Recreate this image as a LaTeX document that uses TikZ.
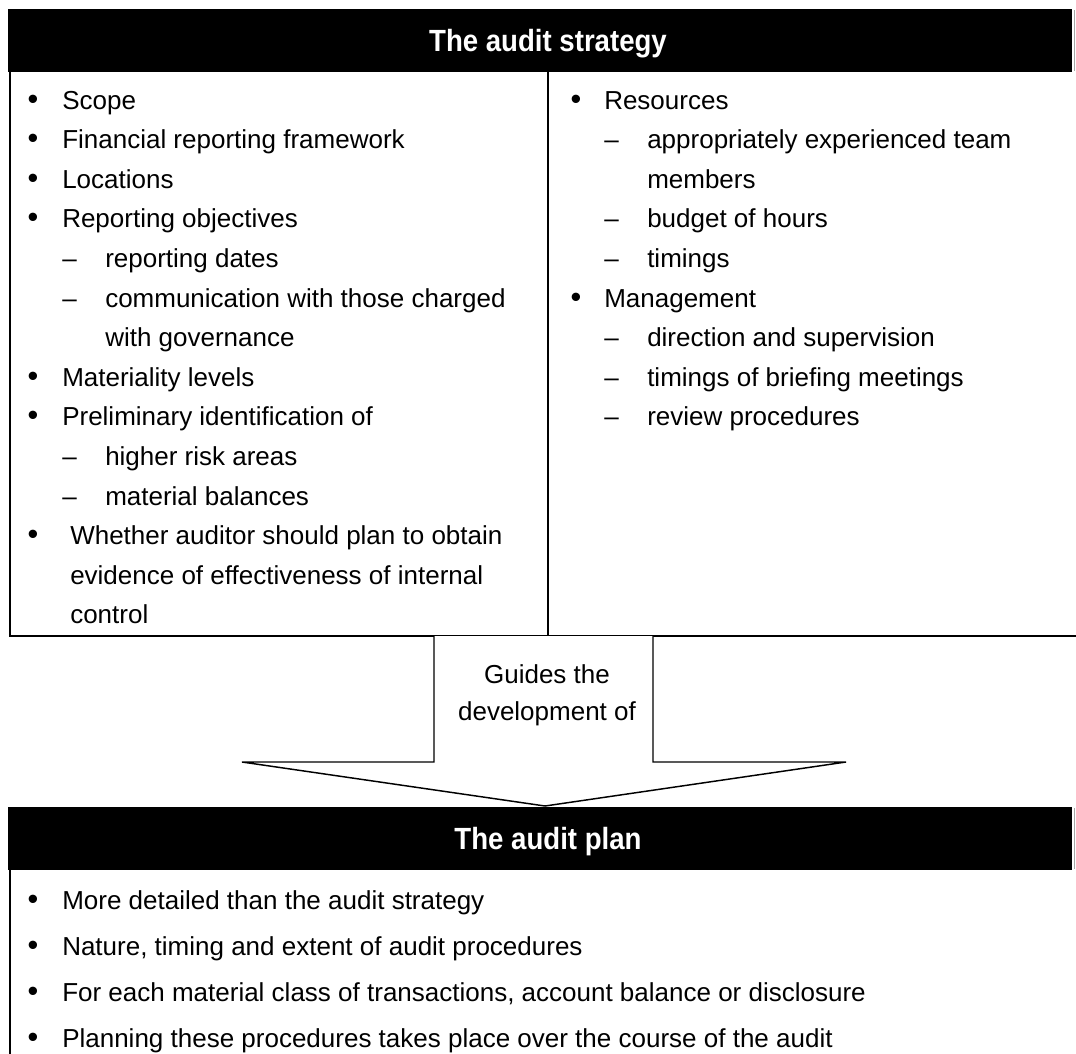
\documentclass[tikz,border=0pt]{standalone}
\usepackage{fontspec}
\setmainfont{Liberation Sans}
\newfontfamily\titlefont[FakeStretch=0.9]{Liberation Sans}
\begin{document}
\begin{tikzpicture}[x=0.75pt,y=-0.75pt,
  txt/.style={anchor=base west,inner sep=0pt,font=\fontsize{19.5pt}{24pt}\selectfont},
  bul/.style={anchor=base,inner sep=0pt,font=\fontsize{23pt}{24pt}\selectfont},
  ttl/.style={anchor=base,inner sep=0pt,text=white,font=\titlefont\bfseries\fontsize{23pt}{28pt}\selectfont},
  border/.style={line width=2.2pt,line cap=rect},
  blockarrow/.style={line width=1.1pt,fill=white,line join=miter}]
\useasboundingbox (0,0) rectangle (1076,1054);
\fill[white] (0,0) rectangle (1076,1054);

% ---------- top box ----------
\fill[black] (8,9) rectangle (1072,72);
\draw[gray!70,line width=0.6pt] (1074,10) -- (1074,71);
\node[ttl] (t1) at (548,51) {The audit strategy};
\draw[border] (10,72) -- (10,636) -- (1076,636);
\draw[border] (548,72) -- (548,636);

% left column
\def\bl{33}\def\tl{62}\def\dl{62}\def\sl{105}
\foreach \y/\kind/\t [count=\i] in {
  0/b/Scope,
  1/b/Financial reporting framework,
  2/b/Locations,
  3/b/Reporting objectives,
  4/d/reporting dates,
  5/d/communication with those charged,
  6/s/with governance,
  7/b/Materiality levels,
  8/b/Preliminary identification of,
  9/d/higher risk areas,
  10/d/material balances}{
  \pgfmathsetmacro{\yy}{109+39.6*\y}
  \if b\kind
    \node[bul] (lb\i) at (\bl,\yy) {•};
    \node[txt] (lt\i) at (\tl,\yy) {\t};
  \fi
  \if d\kind
    \node[txt] (ld\i) at (\dl,\yy) {–};
    \node[txt] (lt\i) at (\sl,\yy) {\t};
  \fi
  \if s\kind
    \node[txt] (lt\i) at (\sl,\yy) {\t};
  \fi
}
\node[bul] (lbw) at (33,{109+39.6*11}) {•};
\node[txt] (lw1) at (70,{109+39.6*11}) {Whether auditor should plan to obtain};
\node[txt] (lw2) at (70,{109+39.6*12}) {evidence of effectiveness of internal};
\node[txt] (lw3) at (70,{109+39.6*13}) {control};

% right column
\def\br{576}\def\tr{604}\def\dr{604}\def\sr{647}
\foreach \y/\kind/\t [count=\i] in {
  0/b/Resources,
  1/d/appropriately experienced team,
  2/s/members,
  3/d/budget of hours,
  4/d/timings,
  5/b/Management,
  6/d/direction and supervision,
  7/d/timings of briefing meetings,
  8/d/review procedures}{
  \pgfmathsetmacro{\yy}{109+39.6*\y}
  \if b\kind
    \node[bul] (rb\i) at (\br,\yy) {•};
    \node[txt] (rt\i) at (\tr,\yy) {\t};
  \fi
  \if d\kind
    \node[txt] (rd\i) at (\dr,\yy) {–};
    \node[txt] (rt\i) at (\sr,\yy) {\t};
  \fi
  \if s\kind
    \node[txt] (rt\i) at (\sr,\yy) {\t};
  \fi
}

% ---------- block arrow ----------
\coordinate (a1) at (434,636);
\coordinate (a2) at (434,762);
\coordinate (a3) at (242,762);
\coordinate (tip) at (545,806);
\coordinate (a5) at (846,762);
\coordinate (a6) at (653,762);
\coordinate (a7) at (653,636);
\draw[blockarrow] (a1) -- (a2) -- (a3) -- (tip) -- (a5) -- (a6) -- (a7);
\node[anchor=base,inner sep=0pt,font=\fontsize{19.5pt}{24pt}\selectfont] (g1) at (547,683) {Guides the};
\node[anchor=base,inner sep=0pt,font=\fontsize{19.5pt}{24pt}\selectfont] (g2) at (547,720) {development of};

% ---------- bottom box ----------
\fill[black] (8,807) rectangle (1072,870);
\draw[gray!70,line width=0.6pt] (1074,808) -- (1074,869);
\node[ttl] (t2) at (548,849) {The audit plan};
\draw[border] (10,870) -- (10,1060);
\foreach \t [count=\i] in {
  More detailed than the audit strategy,
  {Nature, timing and extent of audit procedures},
  {For each material class of transactions, account balance or disclosure},
  Planning these procedures takes place over the course of the audit}{
  \pgfmathsetmacro{\yy}{909+46*(\i-1)}
  \node[bul] (pb\i) at (33,\yy) {•};
  \node[txt] (pt\i) at (62,\yy) {\t};
}
\end{tikzpicture}
\end{document}
